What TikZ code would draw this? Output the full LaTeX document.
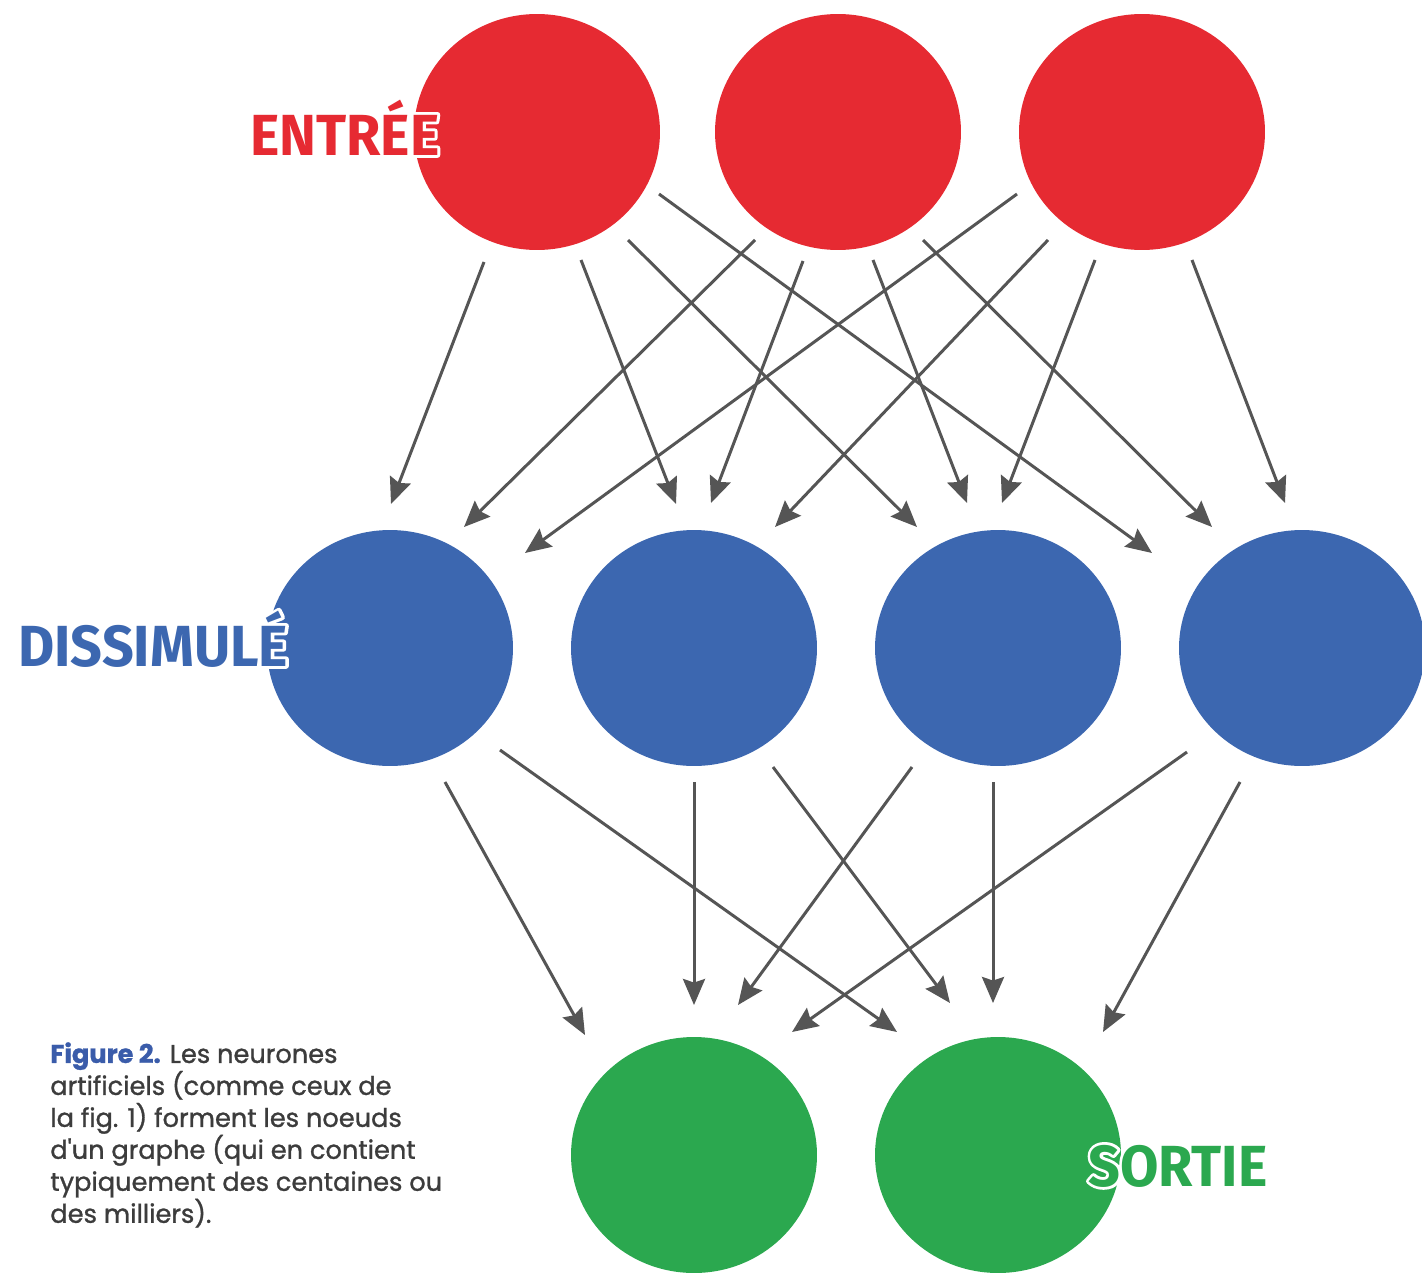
\documentclass[tikz,border=0pt]{standalone}
\usepackage{fontspec}
\usetikzlibrary{arrows.meta,shapes.geometric,calc}

\newfontfamily\layerfont[FakeStretch=0.96]{Fira Sans}
\newfontfamily\capfont[FakeBold=1.1]{Poppins}

\definecolor{inred}{RGB}{230,42,50}
\definecolor{hidblue}{RGB}{60,103,176}
\definecolor{outgreen}{RGB}{43,168,79}
\definecolor{arrowgray}{RGB}{85,85,85}
\definecolor{capgray}{RGB}{60,60,60}
\definecolor{capblue}{RGB}{58,92,170}

% text with a thin white outline drawn underneath it
\newcommand\haloed[1]{\rlap{\color{white}\special{pdf:code 1 Tr 1 j 3.2 w}#1\special{pdf:code 0 Tr}}#1}

\begin{document}
\begin{tikzpicture}[x=0.02cm,y=-0.02cm,
  neuron/.style={ellipse,minimum width=4.92cm,minimum height=4.72cm,inner sep=0pt,draw=none},
  link/.style={draw=arrowgray,line width=1.7pt,-{Stealth[length=0.52cm,width=0.44cm,inset=0.07cm]}},
  layer/.style={font=\layerfont\bfseries\fontsize{33}{33}\selectfont,inner sep=0pt,anchor=base west}]
\useasboundingbox[fill=white] (0,0) rectangle (1422,1274);

% input layer
\node[neuron,fill=inred] (i1) at (537,132) {};
\node[neuron,fill=inred] (i2) at (838,132) {};
\node[neuron,fill=inred] (i3) at (1142,132) {};
% hidden layer
\node[neuron,fill=hidblue] (h1) at (390,648) {};
\node[neuron,fill=hidblue] (h2) at (694,648) {};
\node[neuron,fill=hidblue] (h3) at (998,648) {};
\node[neuron,fill=hidblue] (h4) at (1302,648) {};
% output layer
\node[neuron,fill=outgreen] (o1) at (694,1155) {};
\node[neuron,fill=outgreen] (o2) at (998,1155) {};

% input -> hidden
\draw[link] ($(i1)+(-53,130)$) -- ($(h1)+(1,-144)$);
\draw[link] ($(i1)+(44,128)$)  -- ($(h2)+(-18,-144)$);
\draw[link] ($(i1)+(91,108)$)  -- ($(h3)+(-81,-121)$);
\draw[link] ($(i1)+(122,62)$)  -- ($(h4)+(-150,-95)$);
\draw[link] ($(i2)+(-83,108)$) -- ($(h1)+(74,-121)$);
\draw[link] ($(i2)+(-35,129)$) -- ($(h2)+(17,-145)$);
\draw[link] ($(i2)+(35,128)$)  -- ($(h3)+(-31,-145)$);
\draw[link] ($(i2)+(85,108)$)  -- ($(h4)+(-90,-121)$);
\draw[link] ($(i3)+(-125,62)$) -- ($(h1)+(135,-95)$);
\draw[link] ($(i3)+(-94,108)$) -- ($(h2)+(81,-121)$);
\draw[link] ($(i3)+(-47,128)$) -- ($(h3)+(4,-145)$);
\draw[link] ($(i3)+(50,128)$)  -- ($(h4)+(-17,-145)$);

% hidden -> output
\draw[link] ($(h1)+(55,134)$)   -- ($(o1)+(-109,-120)$);
\draw[link] ($(h1)+(110,102)$)  -- ($(o2)+(-101,-123)$);
\draw[link] ($(h2)+(0,134)$)    -- ($(o1)+(0,-150)$);
\draw[link] ($(h2)+(79,119)$)   -- ($(o2)+(-48,-152)$);
\draw[link] ($(h3)+(-86,119)$)  -- ($(o1)+(44,-150)$);
\draw[link] ($(h3)+(-5,134)$)   -- ($(o2)+(-5,-152)$);
\draw[link] ($(h4)+(-115,104)$) -- ($(o1)+(98,-123)$);
\draw[link] ($(h4)+(-62,134)$)  -- ($(o2)+(105,-123)$);

% layer labels
\node[layer,text=inred] (lin) at (250,155) {\haloed{ENTRÉE}};
\node[layer,text=hidblue] (lhid) at (18,666) {\haloed{DISSIMULÉ}};
\node[layer,text=outgreen] (lout) at (1088,1186) {\haloed{SORTIE}};

% caption
\node[anchor=north west,inner sep=0pt,align=left,text=capgray,
      font=\capfont\fontsize{14.6}{18.2}\selectfont] (cap) at (50,1042)
  {{\bfseries\color{capblue}Figure 2.} Les neurones\\
   artificiels (comme ceux de\\
   la fig. 1) forment les noeuds\\
   d'un graphe (qui en contient\\
   typiquement des centaines ou\\
   des milliers).};
\end{tikzpicture}
\end{document}
